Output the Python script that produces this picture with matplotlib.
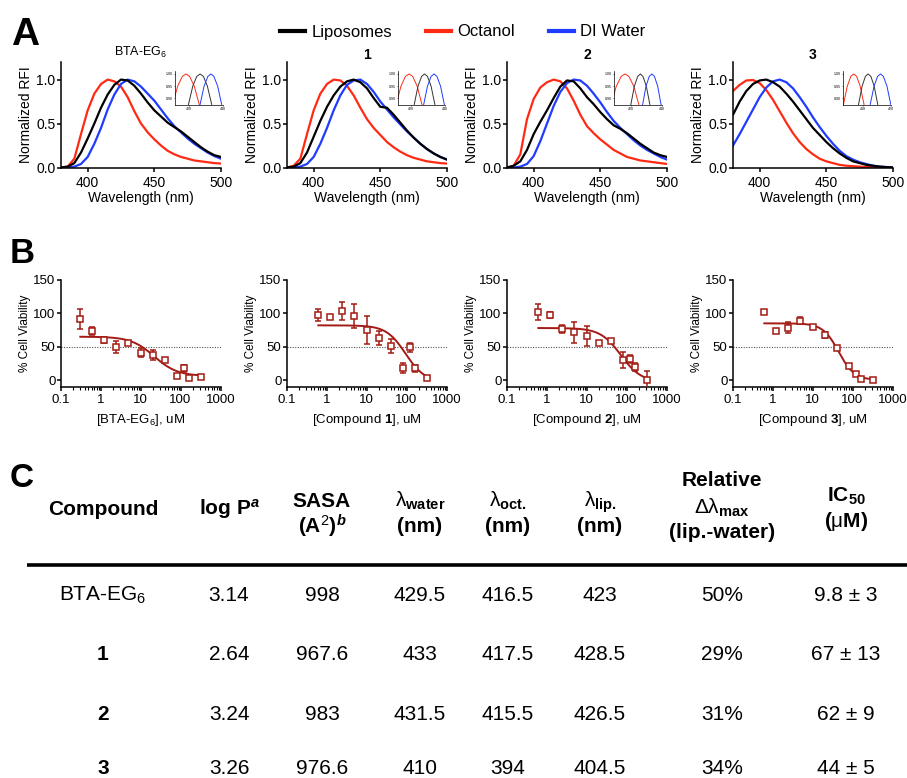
import numpy as np
import matplotlib
matplotlib.use('Agg')
import matplotlib.pyplot as plt
from matplotlib.lines import Line2D
from matplotlib.ticker import LogLocator, NullFormatter

plt.rcParams['font.family'] = ['Liberation Sans', 'DejaVu Sans']
plt.rcParams['mathtext.fontset'] = 'custom'
plt.rcParams['mathtext.rm'] = 'Liberation Sans'
plt.rcParams['mathtext.sf'] = 'Liberation Sans'
plt.rcParams['mathtext.bf'] = 'Liberation Sans:bold'
plt.rcParams['mathtext.it'] = 'Liberation Sans:italic:bold'

# ---- panel A: normalized emission spectra ----
wavelength = list(range(380, 501, 5))

bta_oct = [0.0, 0.01, 0.1, 0.38, 0.65, 0.84, 0.95, 1.0, 0.98, 0.92, 0.8, 0.64, 0.5,
           0.4, 0.32, 0.25, 0.19, 0.15, 0.12, 0.1, 0.08, 0.07, 0.06, 0.05, 0.045]
bta_lipo = [0.0, 0.01, 0.05, 0.17, 0.33, 0.5, 0.68, 0.83, 0.94, 1.0, 0.99, 0.93, 0.84,
            0.74, 0.65, 0.58, 0.51, 0.46, 0.41, 0.35, 0.29, 0.23, 0.18, 0.14, 0.12]
bta_water = [0.0, 0.0, 0.01, 0.04, 0.12, 0.27, 0.45, 0.66, 0.83, 0.95, 1.0, 0.98, 0.92,
             0.84, 0.76, 0.66, 0.56, 0.47, 0.4, 0.33, 0.27, 0.22, 0.17, 0.13, 0.1]

c1_oct = [0.0, 0.02, 0.1, 0.38, 0.65, 0.84, 0.95, 1.0, 0.99, 0.93, 0.82, 0.68, 0.55,
          0.45, 0.37, 0.29, 0.23, 0.18, 0.14, 0.11, 0.09, 0.07, 0.06, 0.05, 0.045]
c1_lipo = [0.0, 0.01, 0.05, 0.17, 0.35, 0.53, 0.69, 0.82, 0.92, 0.98, 1.0, 0.97, 0.9,
           0.79, 0.69, 0.68, 0.6, 0.51, 0.42, 0.34, 0.27, 0.21, 0.16, 0.12, 0.09]
c1_water = [0.0, 0.0, 0.01, 0.04, 0.12, 0.27, 0.45, 0.65, 0.82, 0.94, 0.99, 1.0, 0.95,
            0.86, 0.75, 0.66, 0.57, 0.49, 0.41, 0.34, 0.27, 0.21, 0.16, 0.12, 0.09]

c2_oct = [0.0, 0.02, 0.15, 0.55, 0.78, 0.91, 0.97, 1.0, 0.98, 0.9, 0.76, 0.6, 0.47,
          0.39, 0.32, 0.26, 0.2, 0.16, 0.12, 0.1, 0.08, 0.07, 0.06, 0.05, 0.04]
c2_lipo = [0.0, 0.02, 0.07, 0.2, 0.38, 0.52, 0.65, 0.79, 0.92, 0.99, 0.98, 0.9, 0.8,
           0.72, 0.63, 0.55, 0.48, 0.44, 0.39, 0.33, 0.27, 0.22, 0.17, 0.14, 0.12]
c2_water = [0.0, 0.0, 0.01, 0.04, 0.13, 0.3, 0.5, 0.7, 0.86, 0.96, 1.0, 0.99, 0.93,
            0.84, 0.74, 0.63, 0.53, 0.45, 0.38, 0.31, 0.25, 0.2, 0.16, 0.12, 0.09]

c3_oct = [0.87, 0.94, 0.99, 0.995, 0.96, 0.88, 0.77, 0.64, 0.51, 0.39, 0.29, 0.21, 0.15,
          0.1, 0.07, 0.05, 0.03, 0.02, 0.015, 0.01, 0.005, 0.003, 0.002, 0.001, 0.0]
c3_lipo = [0.6, 0.75, 0.87, 0.95, 0.99, 1.0, 0.97, 0.92, 0.84, 0.75, 0.65, 0.55, 0.45,
           0.37, 0.29, 0.22, 0.16, 0.11, 0.07, 0.05, 0.03, 0.02, 0.01, 0.005, 0.0]
c3_water = [0.25, 0.38, 0.52, 0.66, 0.8, 0.91, 0.98, 1.0, 0.97, 0.9, 0.8, 0.69, 0.57,
            0.46, 0.36, 0.27, 0.19, 0.13, 0.09, 0.06, 0.04, 0.02, 0.01, 0.005, 0.0]

# insets: zoom of the peak tops
inset_arch = [0.875, 0.95, 0.99, 1.0, 0.99, 0.95, 0.875]
bta_in_oct = [410, 413.0, 415.8, 418, 420.2, 423.0, 426]
bta_in_lipo = [419.5, 422.1, 424.5, 426.5, 428.5, 430.9, 433.5]
bta_in_water = [426.5, 428.9, 431.2, 433, 434.8, 437.1, 439.5]
c1_in_oct = [411.5, 414.3, 416.9, 419, 421.1, 423.7, 426.5]
c1_in_lipo = [422, 424.2, 426.3, 428, 429.7, 431.8, 434]
c1_in_water = [427.5, 429.7, 431.8, 433.5, 435.2, 437.3, 439.5]
c2_in_oct = [407, 410.3, 413.5, 416, 418.5, 421.7, 425]
c2_in_lipo = [419.8, 422.1, 424.3, 426, 427.7, 429.9, 432.2]
c2_in_water = [427.5, 429.7, 431.8, 433.5, 435.2, 437.3, 439.5]
c3_in_oct = [385.5, 388.3, 390.9, 393, 395.1, 397.7, 400.5]
c3_in_lipo = [396.5, 399.1, 401.5, 403.5, 405.5, 407.9, 410.5]
c3_in_water = [405, 407.8, 410.4, 412.5, 414.6, 417.2, 420]
inset_xlims = [(411.4, 440), (412.4, 440), (409, 440), (385.4, 420)]
inset_xticks = [[420, 440], [420, 440], [420, 440], [400, 420]]

titles_a = ['BTA-EG$_6$', '1', '2', '3']

# ---- panel B: cell viability ----
bta_conc = [0.3125, 0.625, 1.25, 2.5, 5, 10, 20, 40, 80, 120, 160, 320]
bta_via = [92, 73.5, 60, 50, 56, 41, 37.5, 30, 6.5, 17.5, 2.5, 5]
bta_err = [15, 6, 5, 9, 3, 7, 8, 3, 2, 5, 2, 1]
cmp_conc = [0.625, 1.25, 2.5, 5, 10, 20, 40, 80, 120, 160, 320]
c1_via = [98, 94.5, 103.5, 96, 75.5, 63, 51, 18, 49, 17.5, 2.5]
c1_err = [9, 3, 13, 18, 21, 11, 10, 8, 7, 5, 1]
c2_via = [102.5, 97.5, 76.5, 71.5, 66, 55, 59, 30, 31.5, 19, 0]
c2_err = [12, 4, 6, 16, 15, 3, 3, 12, 6, 6, 14]
c3_via = [101.5, 74, 78.5, 89, 79.5, 67.5, 48.5, 21.5, 9, 1.5, 0]
c3_err = [3, 3, 8, 5, 2, 4, 2, 3, 2, 2, 1]
# sigmoidal fit parameters (top, bottom, ic50, hill) as drawn
fit_top = [65, 82, 78, 85]
fit_bottom = [6, -3, -3, 0]
fit_ic50 = [22, 95, 72, 45]
fit_hill = [1.5, 1.8, 1.7, 2.2]
xlabels_b = ['[BTA-EG$_6$], uM', r'[Compound $\mathbf{1}$], uM',
             r'[Compound $\mathbf{2}$], uM', r'[Compound $\mathbf{3}$], uM']

# ---- panel C: table ----
tbl_compound = ['BTA-EG$_6$', '1', '2', '3']
tbl_logp = ['3.14', '2.64', '3.24', '3.26']
tbl_sasa = ['998', '967.6', '983', '976.6']
tbl_lam_water = ['429.5', '433', '431.5', '410']
tbl_lam_oct = ['416.5', '417.5', '415.5', '394']
tbl_lam_lip = ['423', '428.5', '426.5', '404.5']
tbl_rel_shift = ['50%', '29%', '31%', '34%']
tbl_ic50 = ['9.8 ± 3', '67 ± 13', '62 ± 9', '44 ± 5']

RED = '#ff2a14'
BLUE = '#1f3cff'
DARKRED = '#a31b14'

W, H = 907, 778
fig = plt.figure(figsize=(W / 100, H / 100), dpi=100)


def px_axes(left, top, width, height):
    return fig.add_axes([left / W, 1 - (top + height) / H, width / W, height / H])


col_left = [61, 287, 507, 733]

spectra = [(bta_oct, bta_water, bta_lipo), (c1_oct, c1_water, c1_lipo),
           (c2_oct, c2_water, c2_lipo), (c3_oct, c3_water, c3_lipo)]
insets = [(bta_in_oct, bta_in_water, bta_in_lipo), (c1_in_oct, c1_in_water, c1_in_lipo),
          (c2_in_oct, c2_in_water, c2_in_lipo), (c3_in_oct, c3_in_water, c3_in_lipo)]
inset_left = [175, 397.7, 614.3, 843.3]

for i in range(4):
    ax = px_axes(col_left[i], 62, 160, 105.5)
    o, w, l = spectra[i]
    ax.plot(wavelength, o, color=RED, lw=1.6)
    ax.plot(wavelength, w, color=BLUE, lw=1.6)
    ax.plot(wavelength, l, color='black', lw=1.6)
    ax.set_xlim(380, 500)
    ax.set_ylim(0, 1.2)
    ax.set_xticks([400, 450, 500])
    ax.set_yticks([0, 0.5, 1.0])
    ax.set_yticklabels(['0.0', '0.5', '1.0'])
    for s in ['top', 'right']:
        ax.spines[s].set_visible(False)
    for s in ['left', 'bottom']:
        ax.spines[s].set_linewidth(1.1)
    ax.tick_params(axis='both', length=3, width=1.1, labelsize=10)
    ax.tick_params(axis='y', pad=1)
    ax.tick_params(axis='x', pad=3)
    ax.set_xlabel('Wavelength (nm)', fontsize=10, labelpad=1)
    ax.set_ylabel('Normalized RFI', fontsize=10, labelpad=2)
    if i == 0:
        ax.set_title(titles_a[i], fontsize=9, pad=4.5)
    else:
        ax.set_title(titles_a[i], fontsize=10, fontweight='bold', pad=1.5)

    # inset
    axi = px_axes(inset_left[i], 71.5, 47.5, 33.5)
    axi.patch.set_alpha(0)
    io, iw, il = insets[i]
    axi.plot(io, inset_arch, color=RED, lw=0.7)
    axi.plot(il, inset_arch, color='#333333', lw=0.7)
    axi.plot(iw, inset_arch, color=BLUE, lw=0.7)
    axi.set_xlim(*inset_xlims[i])
    axi.set_ylim(0.873, 1.01)
    axi.set_xticks(inset_xticks[i])
    axi.set_yticks([0.90, 0.95, 1.00])
    axi.set_yticklabels(['0.90', '0.95', '1.00'])
    for s in ['top', 'right']:
        axi.spines[s].set_visible(False)
    for s in ['left', 'bottom']:
        axi.spines[s].set_linewidth(0.5)
    axi.tick_params(length=1, width=0.4, labelsize=2.6, pad=0.6)

handles = [Line2D([], [], color='black', lw=3), Line2D([], [], color=RED, lw=3),
           Line2D([], [], color=BLUE, lw=3)]
fig.legend(handles, ['Liposomes', 'Octanol', 'DI Water'], loc='center',
           bbox_to_anchor=(463 / W, 1 - 32 / H), ncol=3, frameon=False, fontsize=12,
           handlelength=1.5, handletextpad=0.4, columnspacing=2.0)

# panel B
b_conc = [bta_conc, cmp_conc, cmp_conc, cmp_conc]
b_via = [bta_via, c1_via, c2_via, c3_via]
b_err = [bta_err, c1_err, c2_err, c3_err]
for i in range(4):
    ax = px_axes(col_left[i] - 0.5, 280, 160, 106.7)
    ax.set_xscale('log')
    ax.axhline(50, color='#555555', lw=0.8, ls=(0, (1, 1.3)), zorder=1)
    xs = np.logspace(np.log10(b_conc[i][0]), np.log10(b_conc[i][-1]), 300)
    ys = fit_bottom[i] + (fit_top[i] - fit_bottom[i]) / (1 + (xs / fit_ic50[i]) ** fit_hill[i])
    ax.plot(xs, ys, color=DARKRED, lw=1.4, zorder=2)
    ax.errorbar(b_conc[i], b_via[i], yerr=b_err[i], fmt='s', ms=4, mfc='white',
                mec=DARKRED, mew=1.1, ecolor=DARKRED, elinewidth=1.1, capsize=2.5,
                capthick=1.1, zorder=3)
    ax.set_xlim(0.1, 1000)
    ax.set_ylim(-10, 150)
    ax.set_yticks([0, 50, 100, 150])
    ax.set_xticks([0.1, 1, 10, 100, 1000])
    ax.set_xticklabels(['0.1', '1', '10', '100', '1000'])
    ax.xaxis.set_minor_locator(LogLocator(base=10, subs=np.arange(2, 10), numticks=20))
    ax.xaxis.set_minor_formatter(NullFormatter())
    for s in ['top', 'right']:
        ax.spines[s].set_visible(False)
    for s in ['left', 'bottom']:
        ax.spines[s].set_linewidth(1.1)
    ax.tick_params(axis='both', which='major', length=3, width=1.1, labelsize=9.5)
    ax.tick_params(axis='x', which='minor', length=2, width=0.8)
    ax.tick_params(axis='y', pad=0.5)
    ax.tick_params(axis='x', pad=2.5)
    ax.set_xlabel(xlabels_b[i], fontsize=9.5, labelpad=4)
    ax.set_ylabel('% Cell Viability', fontsize=8.5, labelpad=2)

# overlay for panel letters and table
ov = fig.add_axes([0, 0, 1, 1])
ov.set_xlim(0, W)
ov.set_ylim(H, 0)
ov.axis('off')
ov.patch.set_alpha(0)

ov.text(11, 45, 'A', fontsize=28, fontweight='bold', va='baseline')
ov.text(10, 263, 'B', fontsize=25, fontweight='bold', va='baseline')
ov.text(10, 487, 'C', fontsize=24, fontweight='bold', va='baseline')

col_x = [103, 229, 322, 420, 508, 600, 722, 846]
hdr_fs = 15
header = [
    (col_x[0], 515, 'Compound'),
    (col_x[1], 515, r'log P$^{\mathit{a}}$'),
    (col_x[2], 507, 'SASA'),
    (col_x[2], 533, r'(A$^{\mathrm{2}}$)$^{\mathit{b}}$'),
    (col_x[3], 507, r'$\mathrm{λ}_{\mathbf{water}}$'),
    (col_x[3], 532, '(nm)'),
    (col_x[4], 507, r'$\mathrm{λ}_{\mathbf{oct.}}$'),
    (col_x[4], 532, '(nm)'),
    (col_x[5], 507, r'$\mathrm{λ}_{\mathbf{lip.}}$'),
    (col_x[5], 532, '(nm)'),
    (col_x[6], 486, 'Relative'),
    (col_x[6], 514, r'$\mathrm{Δλ}_{\mathbf{max}}$'),
    (col_x[6], 538, '(lip.-water)'),
    (col_x[7], 502, r'IC$_{\mathbf{50}}$'),
    (col_x[7], 527, r'($\mathrm{μ}$M)'),
]
for x, y, t in header:
    ov.text(x, y, t, fontsize=hdr_fs, fontweight='bold', ha='center', va='baseline')

ov.plot([27, 907], [565, 565], color='black', lw=2.6, solid_capstyle='butt')

row_base = [601, 660.5, 719.5, 774.5]
cols = [tbl_compound, tbl_logp, tbl_sasa, tbl_lam_water, tbl_lam_oct, tbl_lam_lip,
        tbl_rel_shift, tbl_ic50]
for r in range(4):
    for c in range(8):
        weight = 'bold' if (c == 0 and r > 0) else 'normal'
        ov.text(col_x[c], row_base[r], cols[c][r], fontsize=15, fontweight=weight,
                ha='center', va='baseline')

fig.savefig('out.png', dpi=100)
